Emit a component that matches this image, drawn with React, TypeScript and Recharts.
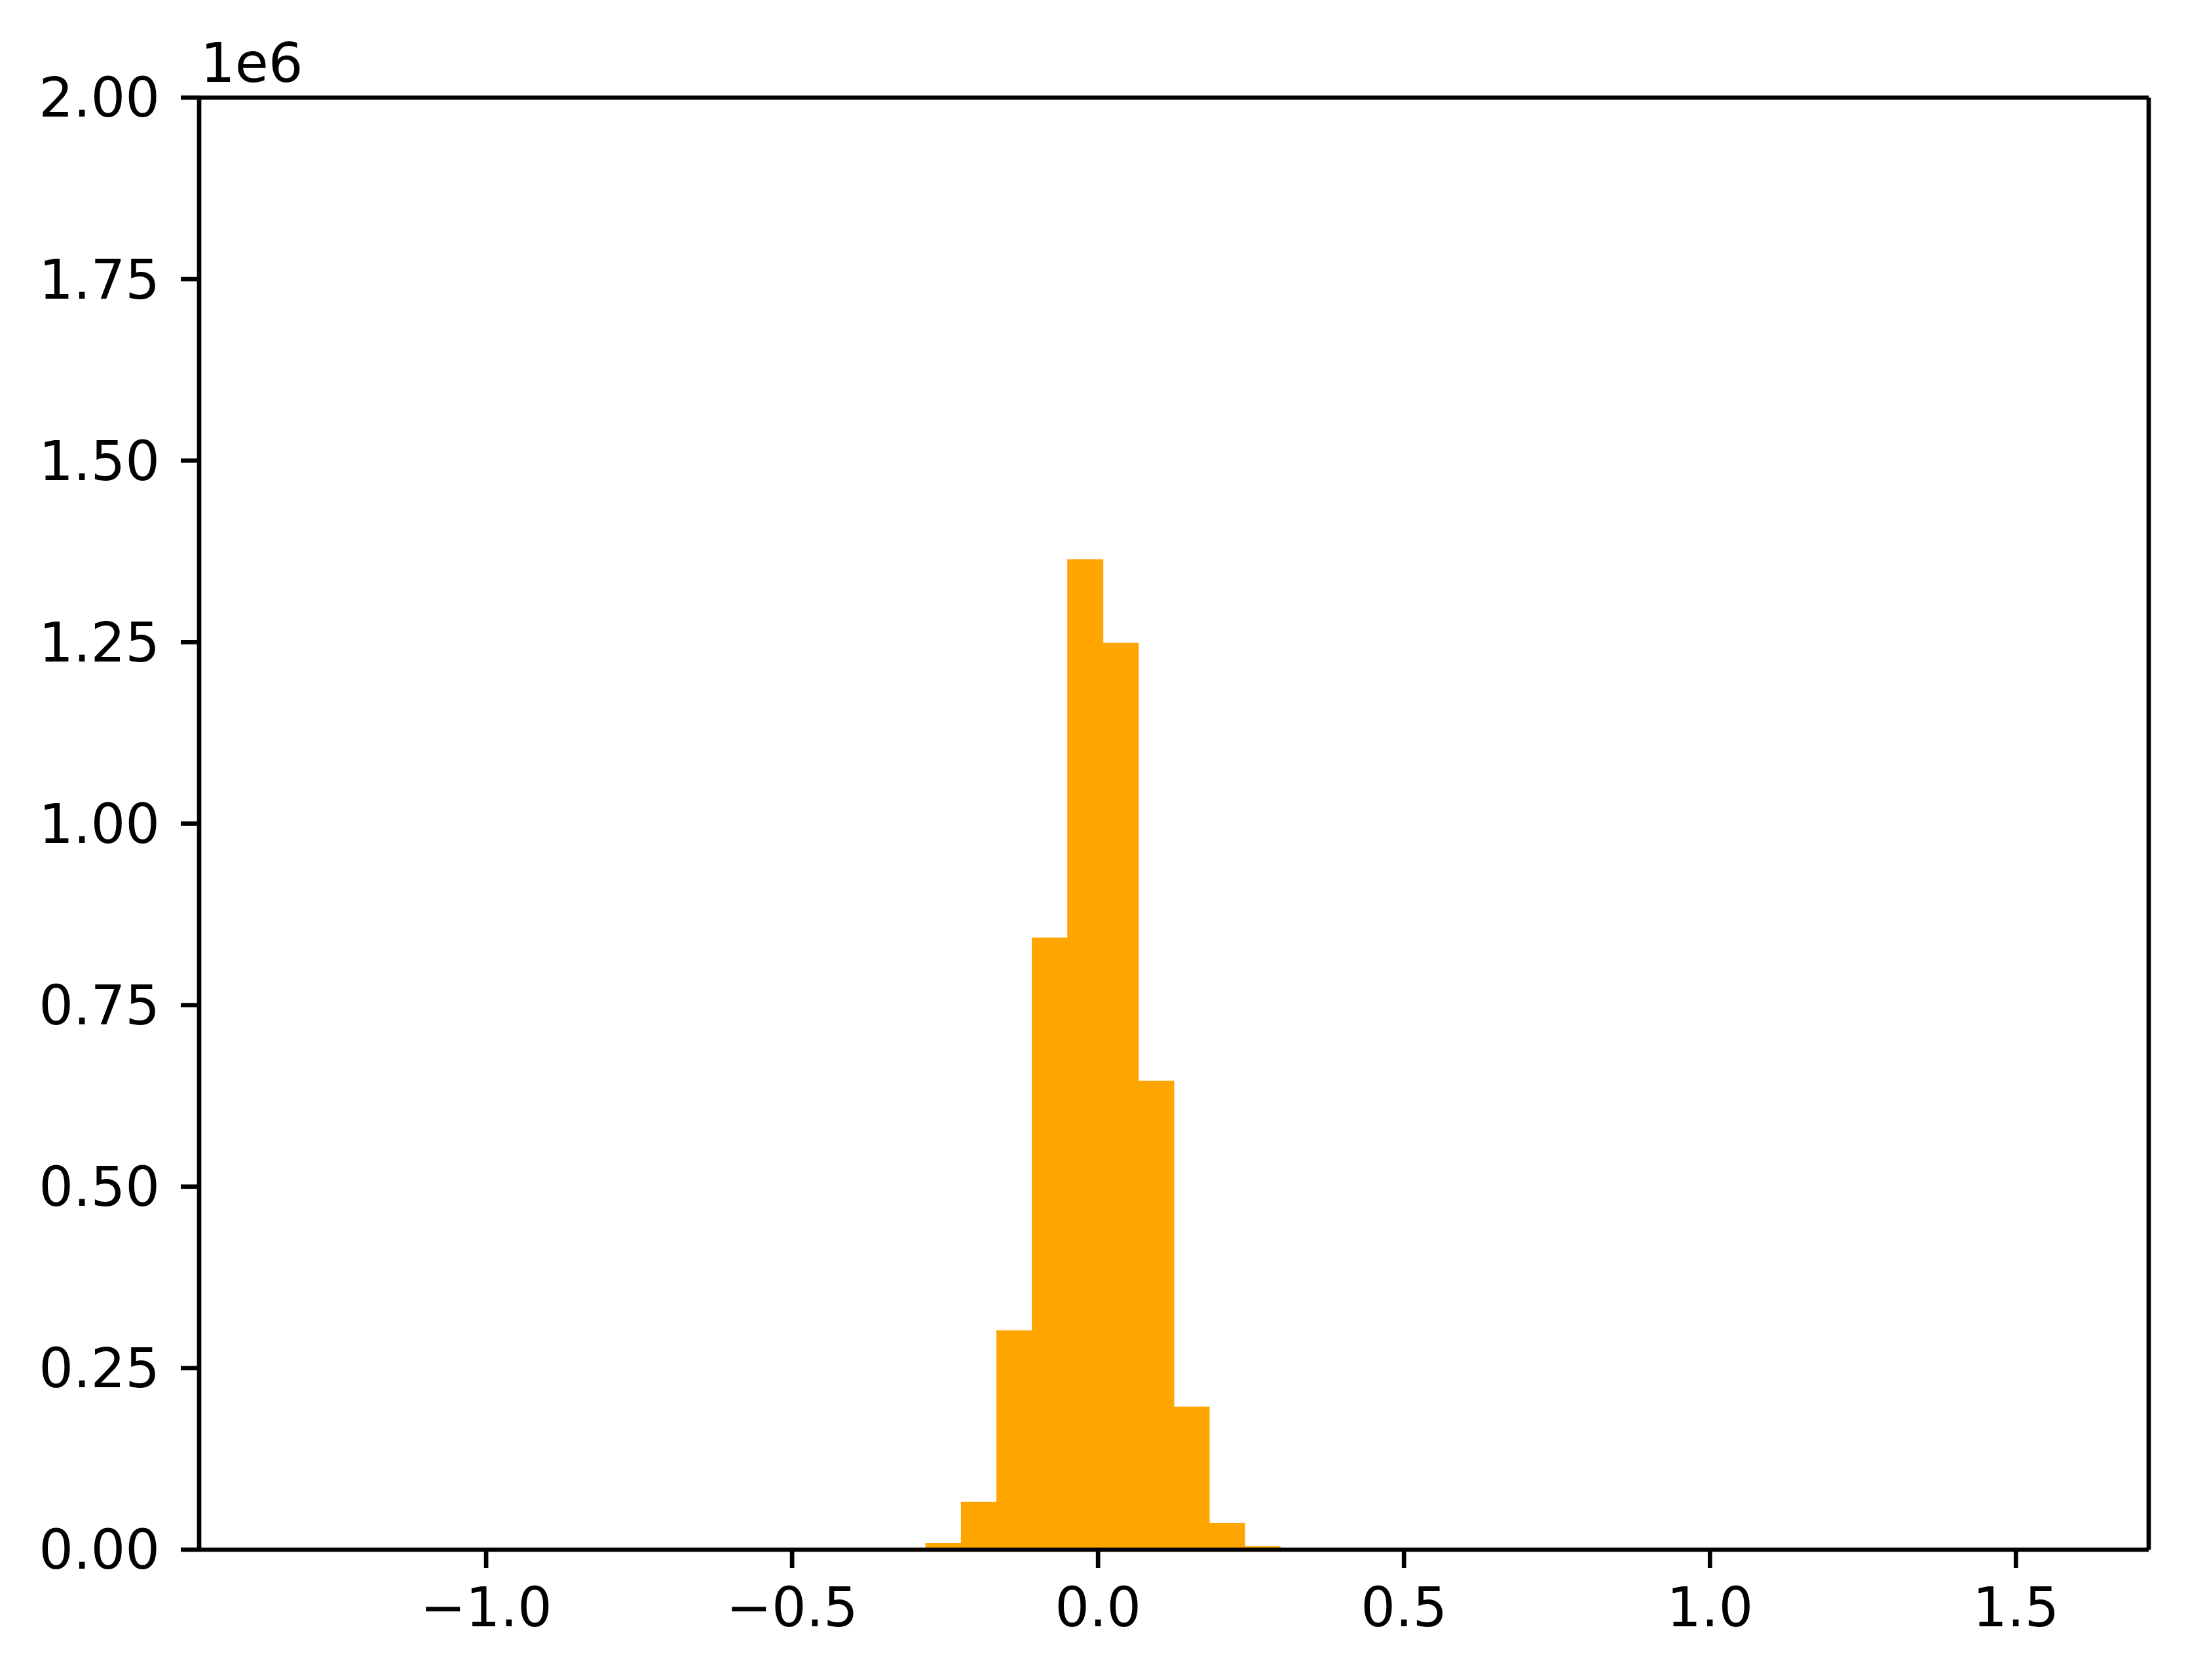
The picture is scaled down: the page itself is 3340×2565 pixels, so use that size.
import React from 'react';
import { BarChart, Bar, XAxis, YAxis, Label } from 'recharts';

// 50 histogram bins spanning roughly -1.324 .. 1.572
const binStart = -1.324;
const binWidth = 0.05793;
const binCounts = [
  1, 0, 0, 0, 0, 0, 0, 0, 0, 0,
  0, 0, 0, 0, 0, 0, 0, 700, 9000, 66000,
  302000, 843000, 1364000, 1249000, 646000, 197000, 37000, 4800, 400, 0,
  0, 0, 0, 0, 0, 0, 0, 0, 0, 0,
  0, 0, 0, 0, 0, 0, 0, 0, 0, 1,
];

const xTicks = [-1.0, -0.5, 0.0, 0.5, 1.0, 1.5];
const yTicks = [0, 250000, 500000, 750000, 1000000, 1250000, 1500000, 1750000, 2000000];
const xDomain = [-1.469, 1.717];

const chartData = binCounts.map((count, i) => ({
  bin: i,
  center: binStart + (i + 0.5) * binWidth,
  count,
}));

const W = 3340;
const H = 2565;
const plotLeft = 304;
const plotRight = 3280;
const plotTop = 149;
const plotBottom = 2366;
const plotWidth = plotRight - plotLeft;
const edgePad = plotWidth / 22;

const font = { fill: '#000', fontSize: 83, fontFamily: 'DejaVu Sans' };
const line = { stroke: '#000', strokeWidth: 6.7 };

const fmtX = (v: number) => v.toFixed(1).replace('-', '\u2212');
const fmtY = (v: number) => (v / 1e6).toFixed(2);

// bars widened by half a pixel each side so neighbouring bins touch
const HistRect = (props: any) => {
  const { x, y, width, height } = props;
  if (!height || height < 0.5) return null;
  return <rect x={x - 0.5} y={y} width={width + 1} height={height} fill="#FFA500" />;
};

const App = () => (
  <div style={{ position: 'absolute', left: 0, top: 0, width: W, height: H, background: '#fff' }}>
    <BarChart
      width={W}
      height={H}
      data={chartData}
      barCategoryGap={0}
      barGap={0}
      margin={{ left: plotLeft - 200, right: W - plotRight - 1, top: plotTop - 1, bottom: H - plotBottom - 150 }}
    >
      <XAxis
        xAxisId="bins"
        dataKey="bin"
        type="category"
        hide
        height={0}
        padding={{ left: edgePad, right: edgePad }}
      />
      <XAxis
        xAxisId="num"
        dataKey="center"
        type="number"
        domain={xDomain}
        allowDataOverflow
        ticks={xTicks}
        tickFormatter={fmtX}
        height={150}
        tick={font}
        tickLine={line}
        axisLine={line}
        tickSize={28}
        tickMargin={30}
        interval={0}
      />
      <XAxis
        xAxisId="top"
        dataKey="center"
        orientation="top"
        type="number"
        domain={xDomain}
        allowDataOverflow
        height={1}
        tick={false}
        tickLine={false}
        axisLine={line}
      />
      <YAxis
        yAxisId="left"
        domain={[0, 2000000]}
        ticks={yTicks}
        tickFormatter={fmtY}
        width={200}
        tick={font}
        tickLine={line}
        axisLine={line}
        tickSize={28}
        tickMargin={32}
        interval={0}
      >
        <Label
          content={({ viewBox }: any) => (
            <text
              x={viewBox.x + viewBox.width + 2}
              y={viewBox.y - 24}
              fill="#000"
              fontSize={83}
              fontFamily="DejaVu Sans"
            >
              1e6
            </text>
          )}
        />
      </YAxis>
      <YAxis
        yAxisId="right"
        orientation="right"
        domain={[0, 2000000]}
        width={1}
        tick={false}
        tickLine={false}
        axisLine={line}
      />
      <Bar
        xAxisId="bins"
        yAxisId="left"
        dataKey="count"
        fill="#FFA500"
        shape={HistRect}
        isAnimationActive={false}
      />
    </BarChart>
  </div>
);

export default App;
